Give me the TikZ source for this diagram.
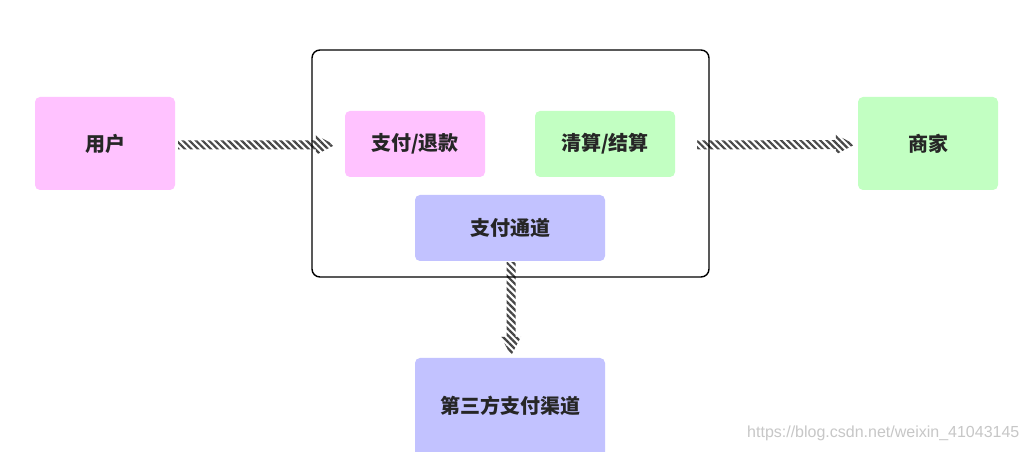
\documentclass[tikz,border=0pt]{standalone}
\usepackage{fontspec}
\newfontfamily\cjk{Noto Sans CJK SC}
\newfontfamily\wmfont{Liberation Sans}
\usetikzlibrary{calc,patterns.meta}
\definecolor{pinkbox}{RGB}{255,194,255}
\definecolor{greenbox}{RGB}{194,255,194}
\definecolor{bluebox}{RGB}{194,194,255}
\tikzset{
  box/.style={rounded corners=5pt, inner sep=0pt, minimum width=140pt, font=\cjk\bfseries\fontsize{20}{22}\selectfont, text=black!85},
  stripes/.style={pattern={Lines[angle=-45,distance=4.6pt,line width=2.2pt]}, pattern color=black!72}
}
\begin{document}
\begin{tikzpicture}[x=1pt,y=1pt]
\useasboundingbox[fill=white] (0,0) rectangle (1028,452);

\node[box, fill=pinkbox, minimum height=93pt] (user) at (105,308.5) {用户};
\node[box, fill=pinkbox, minimum height=66pt] (pay) at (415,308) {支付/退款};
\node[box, fill=greenbox, minimum height=66pt] (clear) at (605,308) {清算/结算};
\node[box, fill=bluebox, minimum width=190pt, minimum height=66pt] (channel) at (510,224) {支付通道};
\node[box, fill=greenbox, minimum height=93pt] (merchant) at (928,308.5) {商家};
\node[box, fill=bluebox, minimum width=190pt, minimum height=100pt] (third) at (510,44) {};
\node[font=\cjk\bfseries\fontsize{20}{22}\selectfont, text=black!85] (thirdtext) at (510,46) {第三方支付渠道};

% striped arrows
\coordinate (s1) at ($(user.east)+(3,-1.5)$);
\coordinate (e1) at ($(pay.west)+(-10,-1)$);
\path[stripes] ($(s1)+(0,4.5)$) -- ($(e1)+(-19,4.5)$) -- ($(e1)+(-19,10)$) -- (e1)
  -- ($(e1)+(-19,-10)$) -- ($(e1)+(-19,-4.5)$) -- ($(s1)+(0,-4.5)$) -- cycle;

\coordinate (s2) at ($(clear.east)+(22,-1)$);
\coordinate (e2) at ($(merchant.west)+(-3,-1)$);
\path[stripes] ($(s2)+(0,4.5)$) -- ($(e2)+(-19,4.5)$) -- ($(e2)+(-19,10)$) -- (e2)
  -- ($(e2)+(-19,-10)$) -- ($(e2)+(-19,-4.5)$) -- ($(s2)+(0,-4.5)$) -- cycle;

\coordinate (s3) at ($(channel.south)+(1,-1)$);
\coordinate (e3) at ($(third.north)+(1,2)$);
\path[stripes] ($(s3)+(-4.5,0)$) -- ($(e3)+(-4.5,19)$) -- ($(e3)+(-10,19)$) -- (e3)
  -- ($(e3)+(10,19)$) -- ($(e3)+(4.5,19)$) -- ($(s3)+(4.5,0)$) -- cycle;

% outer frame
\draw[line width=1.4pt, rounded corners=8pt] (312,402) rectangle (709,175);

\node[anchor=west, font=\wmfont\fontsize{16}{18}\selectfont, text=black!22, inner sep=0pt] (mark) at (747,19) {https://blog.csdn.net/weixin\_41043145};
\end{tikzpicture}
\end{document}
